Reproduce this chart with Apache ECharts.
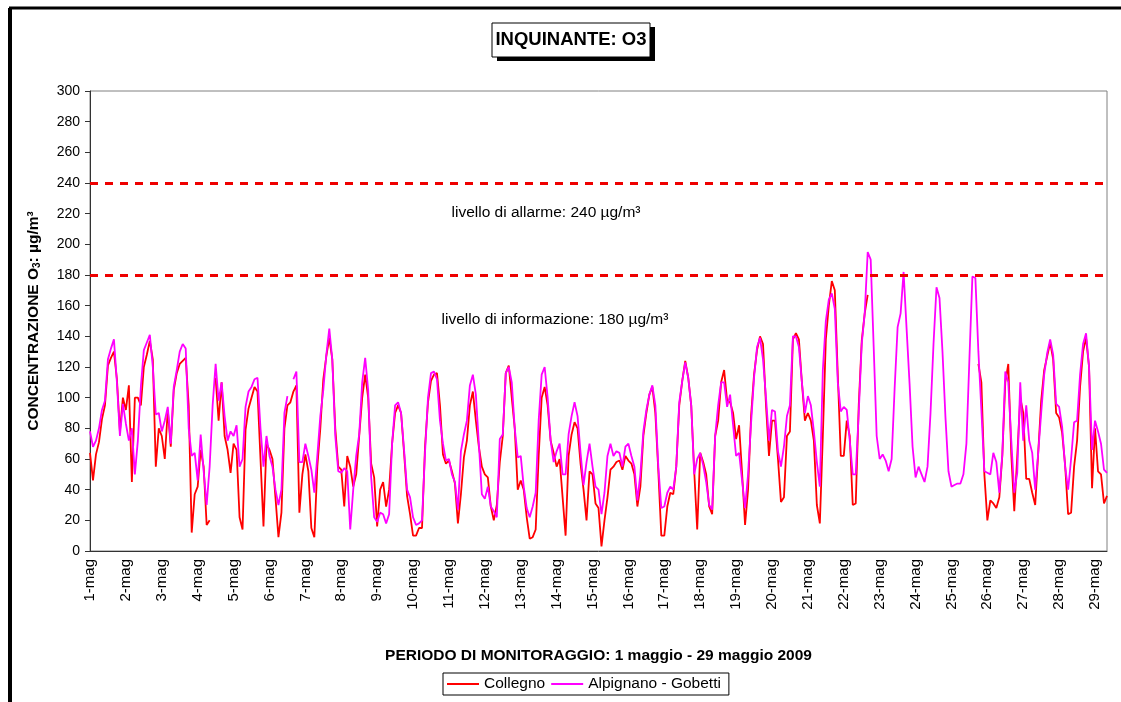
<!DOCTYPE html>
<html>
<head>
<meta charset="utf-8">
<title>Inquinante O3</title>
<script src="https://cdn.jsdelivr.net/npm/echarts@6/dist/echarts.min.js"></script>
<style>
  html, body { margin: 0; padding: 0; background: #fff; }
  #chart { width: 1121px; height: 702px; }
</style>
</head>
<body>
<div id="chart"></div>
<script>
// etichette dei giorni, una ogni 24 ore
var giorni = ['1-mag', '2-mag', '3-mag', '4-mag', '5-mag', '6-mag', '7-mag', '8-mag', '9-mag', '10-mag',
  '11-mag', '12-mag', '13-mag', '14-mag', '15-mag', '16-mag', '17-mag', '18-mag', '19-mag', '20-mag',
  '21-mag', '22-mag', '23-mag', '24-mag', '25-mag', '26-mag', '27-mag', '28-mag', '29-mag'];

// un valore ogni 2 ore, una riga per giorno (µg/m³)
var passoOre = 2;

var collegno = [
  64, 46, 63, 71, 86, 95, 121, 126, 130, 112, 78, 100,
  92, 108, 45, 100, 100, 95, 120, 128, 137, 125, 55, 80,
  75, 60, 92, 68, 105, 116, 122, 124, 126, 95, 12, 37,
  42, 66, 55, 17, 20, null, 113, 85, 110, 75, 66, 51,
  70, 66, 22, 14, 79, 93, 100, 107, 104, 60, 16, 70,
  66, 60, 35, 9, 25, 80, 95, 97, 104, 108, 25, 50,
  63, 52, 15, 9, 55, 80, 112, 127, 139, 125, 80, 55,
  53, 29, 62, 55, 42, 50, 75, 100, 115, 100, 57, 48,
  16, 40, 45, 29, 40, 70, 90, 95, 90, 64, 36, 24,
  10, 10, 15, 15, 68, 97, 111, 115, 116, 95, 63, 57,
  59, 52, 44, 18, 37, 61, 72, 95, 104, 85, 68, 55,
  50, 48, 29, 20, 30, 58, 75, 116, 121, 100, 80, 40,
  46, 40, 22, 8, 9, 14, 62, 100, 107, 95, 72, 64,
  55, 60, 35, 10, 62, 76, 84, 80, 57, 40, 20, 52,
  50, 31, 28, 3, 20, 35, 53, 55, 58, 59, 53, 62,
  59, 57, 50, 29, 42, 75, 90, 102, 107, 90, 52, 10,
  10, 29, 38, 37, 55, 95, 111, 124, 113, 95, 52, 14,
  64, 58, 50, 29, 24, 75, 85, 110, 118, 98, 97, 90,
  73, 82, 51, 17, 40, 88, 115, 131, 140, 135, 95, 62,
  85, 85, 60, 32, 35, 75, 78, 138, 142, 138, 110, 85,
  90, 85, 72, 30, 18, 75, 138, 160, 176, 170, 115, 62,
  62, 85, 75, 30, 31, 95, 137, 155, 167, null, null, null,
  null, null, null, null, null, null, null, null, null, null, null, null,
  null, null, null, null, null, null, null, null, null, null, null, null,
  null, null, null, null, null, null, null, null, null, 122, 110, 50,
  20, 33, 31, 28, 35, 62, 110, 122, 63, 26, 62, 100,
  90, 47, 47, 38, 30, 64, 98, 118, 127, 136, 125, 90,
  87, 77, 56, 24, 25, 55, 72, 107, 130, 139, 120, 41,
  80, 52, 50, 31, 36
];

var alpignano = [
  78, 68, 72, 80, 92, 98, 125, 132, 138, 110, 75, 96,
  83, 72, 80, 50, 72, 107, 131, 136, 141, 120, 89, 90,
  78, 85, 94, 70, 107, 118, 130, 135, 132, 80, 62, 64,
  46, 76, 52, 30, 55, 95, 122, 98, 110, 88, 72, 78,
  75, 82, 55, 60, 94, 104, 107, 112, 113, 80, 55, 75,
  62, 55, 40, 30, 40, 90, 101, null, 112, 117, 58, 58,
  70, 62, 53, 38, 62, 88, 105, 128, 145, 125, 75, 52,
  51, 54, 52, 14, 40, 62, 76, 110, 126, 105, 48, 22,
  19, 25, 24, 18, 24, 70, 95, 97, 90, 66, 40, 35,
  22, 17, 18, 20, 64, 100, 116, 117, 112, 85, 70, 59,
  60, 50, 45, 27, 65, 76, 85, 108, 115, 102, 70, 37,
  34, 42, 29, 26, 22, 73, 76, 116, 120, 110, 80, 61,
  62, 42, 28, 22, 29, 38, 85, 115, 120, 100, 72, 58,
  65, 70, 50, 50, 76, 88, 97, 88, 64, 43, 58, 70,
  55, 42, 40, 24, 38, 62, 70, 62, 65, 64, 55, 68,
  70, 62, 55, 33, 50, 78, 92, 102, 108, 95, 55, 28,
  29, 38, 42, 40, 55, 97, 111, 123, 113, 95, 50, 60,
  64, 56, 45, 30, 27, 75, 95, 110, 110, 94, 102, 82,
  62, 64, 46, 28, 50, 83, 113, 133, 139, 125, 100, 72,
  92, 91, 65, 55, 68, 88, 95, 140, 140, 133, 110, 90,
  101, 95, 78, 58, 42, 118, 150, 164, 168, 158, 110, 91,
  94, 92, 72, 50, 50, 90, 135, 155, 195, 190, 133, 75,
  60, 63, 59, 52, 60, 106, 146, 155, 182, 145, 109, 68,
  48, 55, 50, 45, 55, 90, 135, 172, 165, 130, 87, 52,
  42, 43, 44, 44, 50, 70, 125, 179, 178, 130, 92, 52,
  51, 50, 64, 58, 38, 63, 117, 110, 72, 38, 51, 110,
  72, 95, 72, 64, 40, 64, 90, 115, 129, 138, 128, 96,
  94, 81, 55, 40, 60, 84, 85, 115, 135, 142, 120, 66,
  85, 78, 70, 53, 51
];

var soglie = [240, 180];
var etichetteSoglie = ['livello di allarme: 240 µg/m³', 'livello di informazione: 180 µg/m³'];

var font = 'Liberation Sans, Arial, sans-serif';

function punti(arr) {
  return arr.map(function (v, i) { return [i * passoOre, v]; });
}

var oreTotali = (collegno.length - 1) * passoOre;

var myChart = echarts.init(document.getElementById('chart'));
myChart.setOption({
  backgroundColor: '#fff',
  animation: false,
  textStyle: { fontFamily: font },
  grid: {
    left: 90, top: 91, width: 1017, height: 460,
    show: true, borderColor: '#808080', borderWidth: 1, backgroundColor: '#fff'
  },
  legend: {
    data: ['Collegno', 'Alpignano - Gobetti'],
    left: 443, top: 673,
    icon: 'rect', itemWidth: 32, itemHeight: 2, itemGap: 6,
    borderColor: '#000', borderWidth: 1,
    padding: [3, 8, 3, 4],
    textStyle: { fontSize: 15.5, color: '#000', fontFamily: font }
  },
  xAxis: {
    type: 'value',
    min: 0, max: oreTotali, interval: 24,
    name: 'PERIODO DI MONITORAGGIO: 1 maggio - 29 maggio 2009',
    nameLocation: 'middle', nameGap: 97,
    nameTextStyle: { fontSize: 15.5, fontWeight: 'bold', color: '#000', fontFamily: font },
    axisLine: { lineStyle: { color: '#333', width: 1 } },
    axisTick: { show: false },
    splitLine: { show: false },
    axisLabel: {
      rotate: 90, fontSize: 15, color: '#000', margin: 8, showMaxLabel: false,
      formatter: function (v) { return v % 24 === 0 ? (giorni[v / 24] || '') : ''; }
    }
  },
  yAxis: {
    type: 'value',
    min: 0, max: 300, interval: 20,
    name: 'CONCENTRAZIONE O{sub|3}: µg/m³',
    nameLocation: 'middle', nameRotate: 90, nameGap: 48,
    nameTextStyle: {
      fontSize: 15.5, fontWeight: 'bold', color: '#000', fontFamily: font,
      rich: { sub: { fontSize: 10, fontWeight: 'bold', color: '#000', padding: [7, 0, 0, 0] } }
    },
    axisLine: { show: true, lineStyle: { color: '#333', width: 1 } },
    axisTick: { show: true, inside: false, length: 5, lineStyle: { color: '#333' } },
    splitLine: { show: false },
    axisLabel: { fontSize: 14, color: '#000', margin: 10 }
  },
  series: [
    {
      name: 'Collegno',
      type: 'line',
      data: punti(collegno),
      showSymbol: false,
      color: '#ff0000',
      lineStyle: { width: 1.8, color: '#ff0000' },
      markLine: {
        silent: true, symbol: 'none',
        label: { show: false },
        lineStyle: { color: '#ee0000', type: [8, 7], width: 3 },
        data: soglie.map(function (s) { return { yAxis: s }; })
      }
    },
    {
      name: 'Alpignano - Gobetti',
      type: 'line',
      data: punti(alpignano),
      showSymbol: false,
      color: '#ff00ff',
      lineStyle: { width: 1.8, color: '#ff00ff' }
    }
  ],
  graphic: [
    // cornice esterna
    { type: 'line', shape: { x1: 9, y1: 8, x2: 1121, y2: 8 }, style: { stroke: '#000', lineWidth: 3 } },
    { type: 'line', shape: { x1: 10, y1: 8, x2: 10, y2: 702 }, style: { stroke: '#000', lineWidth: 4 } },
    // titolo con ombra
    { type: 'rect', shape: { x: 497, y: 27, width: 158, height: 34 }, style: { fill: '#000' } },
    { type: 'rect', shape: { x: 492, y: 23, width: 158, height: 34 }, style: { fill: '#fff', stroke: '#000', lineWidth: 1 } },
    { type: 'text', x: 571, y: 40, style: { text: 'INQUINANTE: O3', fontSize: 18.5, fontWeight: 'bold', fontFamily: font, fill: '#000', align: 'center', verticalAlign: 'middle' } },
    // etichette delle soglie
    { type: 'text', x: 546, y: 213, style: { text: etichetteSoglie[0], fontSize: 15.5, fontFamily: font, fill: '#000', align: 'center', verticalAlign: 'middle' } },
    { type: 'text', x: 555, y: 320, style: { text: etichetteSoglie[1], fontSize: 15.5, fontFamily: font, fill: '#000', align: 'center', verticalAlign: 'middle' } }
  ]
});
</script>
</body>
</html>
